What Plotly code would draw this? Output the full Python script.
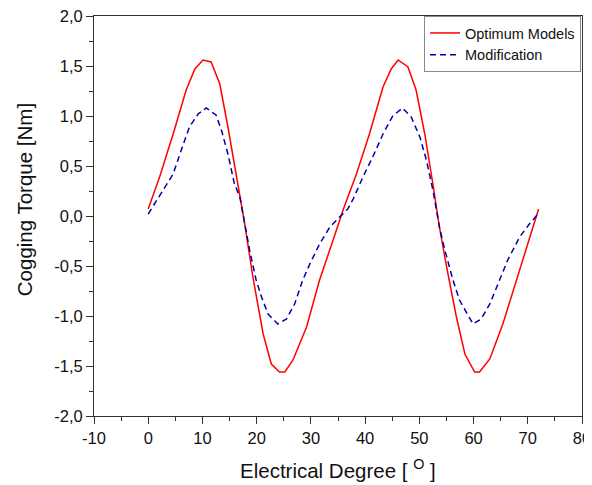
import plotly.graph_objects as go

red_x = [0, 2.1, 4.6, 7.0, 8.6, 10.1, 11.6, 13.2, 14.7, 16.2, 17.8, 19.3, 21.2, 22.7, 24.2, 25.2,
         26.7, 29.2, 31.6, 34.1, 36.0, 38.4, 40.8, 43.3, 44.8, 46.1, 47.9, 49.4, 51.0, 52.5, 53.7,
         55.0, 56.8, 58.4, 60.2, 61.1, 63.0, 65.4, 68.5, 70.3, 72.0]
red_y = [0.07, 0.39, 0.82, 1.26, 1.47, 1.56, 1.54, 1.32, 0.89, 0.42, -0.08, -0.61, -1.18, -1.48, -1.56, -1.56,
         -1.44, -1.11, -0.64, -0.24, 0.07, 0.42, 0.82, 1.29, 1.47, 1.56, 1.49, 1.26, 0.82, 0.32, -0.11,
         -0.50, -1.00, -1.38, -1.56, -1.56, -1.43, -1.08, -0.54, -0.21, 0.07]

blue_x = [0, 2.7, 4.6, 6.1, 7.6, 9.2, 10.7, 12.5, 13.5, 14.7, 15.9, 16.9, 17.8, 18.7, 19.9, 20.9, 22.1,
          23.9, 25.5, 27.0, 28.5, 29.8, 31.6, 33.5, 35.3, 36.8, 37.8, 39.6, 41.4, 43.3, 45.1, 46.9,
          48.5, 50.1, 51.3, 52.5, 53.7, 54.7, 56.2, 57.4, 59.9, 61.4, 63.0, 64.8, 66.3, 68.5, 70.3, 71.9]
blue_y = [0.02, 0.26, 0.42, 0.66, 0.89, 1.02, 1.08, 1.01, 0.86, 0.62, 0.32, 0.19, -0.08, -0.34, -0.64, -0.81, -0.98,
          -1.08, -1.03, -0.88, -0.64, -0.48, -0.28, -0.11, -0.01, 0.07, 0.17, 0.39, 0.59, 0.82, 1.00, 1.08,
          0.99, 0.79, 0.56, 0.26, -0.11, -0.34, -0.64, -0.84, -1.08, -1.03, -0.88, -0.64, -0.44, -0.21, -0.08, 0.02]

x_ticks = [-10, 0, 10, 20, 30, 40, 50, 60, 70, 80]
x_labels = ["-10", "0", "10", "20", "30", "40", "50", "60", "70", "80"]
y_ticks = [-2.0, -1.5, -1.0, -0.5, 0.0, 0.5, 1.0, 1.5, 2.0]
y_labels = ["-2,0", "-1,5", "-1,0", "-0,5", "0,0", "0,5", "1,0", "1,5", "2,0"]

x_title = "Electrical Degree [ <sup>O</sup> ]"
y_title = "Cogging Torque [Nm]"

font = "Liberation Sans, Arial, sans-serif"

fig = go.Figure()
fig.add_trace(go.Scatter(x=red_x, y=red_y, mode="lines", name="Optimum Models",
                         line=dict(color="#FF0000", width=1.5)))
fig.add_trace(go.Scatter(x=blue_x, y=blue_y, mode="lines", name="Modification",
                         line=dict(color="#0000A8", width=1.5, dash="6px,4px")))

axis_common = dict(showline=True, linecolor="#333333", linewidth=1, mirror=True, showgrid=False,
                   zeroline=False, ticks="outside", ticklen=7, tickcolor="#333333", automargin=False,
                   ticklabeloverflow="allow",
                   tickfont=dict(family=font, size=16.5, color="#111111"))

fig.update_xaxes(range=[-10, 80], tickmode="array", tickvals=x_ticks, ticktext=x_labels,
                 minor=dict(tickvals=[v + 5 for v in x_ticks[:-1]], ticks="outside", ticklen=4, tickcolor="#333333"),
                 **axis_common)
fig.update_yaxes(range=[-2, 2], tickmode="array", tickvals=y_ticks, ticktext=y_labels,
                 minor=dict(tickvals=[v + 0.25 for v in y_ticks[:-1]], ticks="outside", ticklen=4, tickcolor="#333333"),
                 **axis_common)

fig.add_annotation(text=x_title, xref="paper", yref="paper", x=0.5, y=-0.133, yanchor="middle",
                   showarrow=False, font=dict(family=font, size=20.5, color="#111111"))
fig.add_annotation(text=y_title, xref="paper", yref="paper", x=-0.143, y=0.54, xanchor="center",
                   yanchor="middle", textangle=-90,
                   showarrow=False, font=dict(family=font, size=20.5, color="#111111"))

# page has an 8px body margin, so the figure is sized to the remaining window area
fig.update_layout(width=584, height=477, margin=dict(l=86, r=10, t=8, b=69),
                  plot_bgcolor="white", paper_bgcolor="white",
                  legend=dict(x=0.998, y=1.0, xanchor="right", yanchor="top",
                              bgcolor="white", bordercolor="#888888", borderwidth=1,
                              font=dict(family=font, size=14.5, color="#111111"),
                              tracegroupgap=0, itemwidth=30))

fig.write_html("out.html")
